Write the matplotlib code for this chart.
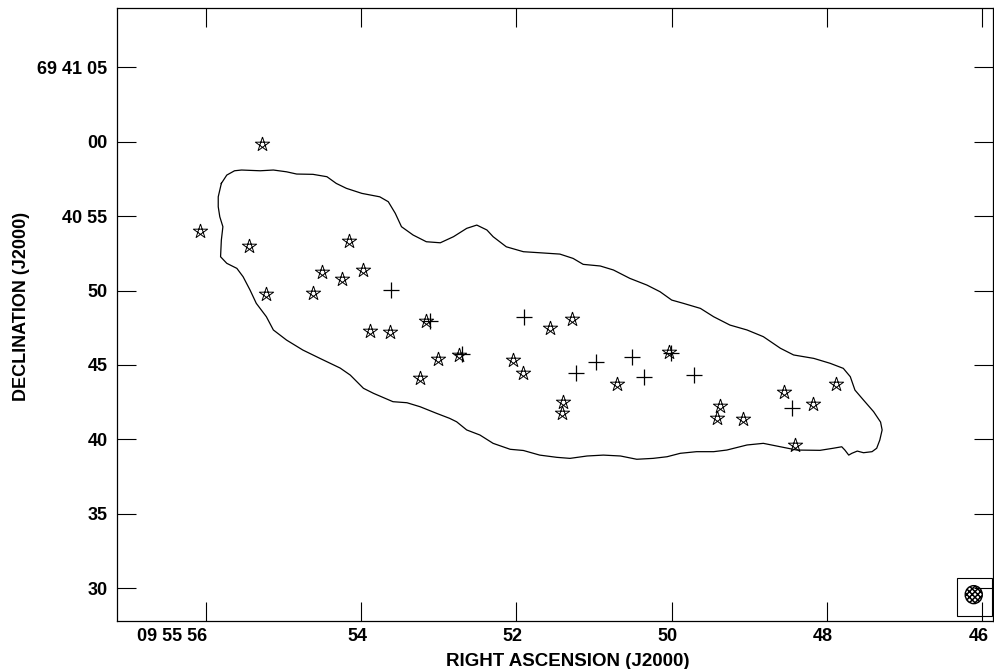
import numpy as np
import matplotlib
matplotlib.use("Agg")
import matplotlib.pyplot as plt
from matplotlib.path import Path
from matplotlib.patches import Rectangle, Ellipse
from matplotlib.transforms import ScaledTranslation

# RA in seconds of 09 55, Dec in arcsec past 69 40 00
star_ra = [55.28, 56.07, 55.45, 55.22, 54.50, 54.62, 54.16, 54.24, 53.98, 53.89,
           53.63, 53.16, 53.01, 53.24, 52.74, 52.05, 51.92, 51.57, 51.28, 51.40,
           51.41, 50.71, 50.04, 49.38, 49.42, 49.08, 48.55, 48.18, 47.88, 48.41]
star_dec = [59.84, 54.00, 53.01, 49.79, 51.26, 49.85, 53.35, 50.77, 51.38, 47.28,
            47.19, 47.93, 45.38, 44.15, 45.67, 45.33, 44.44, 47.46, 48.06, 42.53,
            41.79, 43.70, 45.89, 42.26, 41.41, 41.34, 43.20, 42.39, 43.72, 39.62]

cross_ra = [53.62, 53.11, 52.70, 51.90, 51.23, 50.97, 50.51, 50.36, 50.01, 49.71, 48.45]
cross_dec = [50.03, 47.97, 45.73, 48.24, 44.48, 45.22, 45.55, 44.17, 45.82, 44.32, 42.08]

# outer contour level, traced clockwise from the north-east corner
contour_ra = [55.80, 55.73, 55.63, 55.54, 55.30, 55.13, 54.96, 54.83, 54.62, 54.44,
              54.32, 54.19, 53.99, 53.76, 53.65, 53.56, 53.48, 53.33, 53.16, 52.98,
              52.81, 52.64, 52.51, 52.38, 52.30, 52.13, 51.91, 51.70, 51.44, 51.27,
              51.14, 50.92, 50.75, 50.54, 50.32, 50.15, 50.00, 49.85, 49.63, 49.46,
              49.25, 49.03, 48.82, 48.60, 48.43, 48.17, 47.96, 47.79, 47.70, 47.64,
              47.53, 47.40, 47.31, 47.29, 47.32, 47.36, 47.42, 47.53, 47.61, 47.68,
              47.72, 47.77, 47.81, 47.92, 48.09, 48.39, 48.60, 48.82, 49.03, 49.29,
              49.46, 49.68, 49.89, 50.06, 50.24, 50.45, 50.66, 50.88, 51.09, 51.31,
              51.48, 51.70, 51.91, 52.08, 52.30, 52.47, 52.64, 52.77, 52.86, 53.03,
              53.24, 53.41, 53.59, 53.84, 53.97, 54.14, 54.27, 54.53, 54.75, 54.96,
              55.13, 55.22, 55.35, 55.43, 55.52, 55.60, 55.73, 55.81, 55.80, 55.78,
              55.82, 55.84, 55.84, 55.80]
contour_dec = [57.20, 57.76, 58.05, 58.10, 58.05, 58.10, 57.98, 57.83, 57.81, 57.65,
               57.20, 56.87, 56.53, 56.30, 55.97, 55.19, 54.29, 53.73, 53.28, 53.21,
               53.62, 54.18, 54.40, 54.07, 53.62, 52.94, 52.61, 52.54, 52.45, 52.16,
               51.76, 51.65, 51.38, 50.82, 50.37, 49.92, 49.36, 49.14, 48.80, 48.24,
               47.68, 47.35, 46.90, 46.12, 45.67, 45.44, 45.11, 44.77, 44.21, 43.31,
               42.64, 41.86, 41.16, 40.63, 39.95, 39.40, 39.17, 39.10, 39.21, 39.06,
               38.94, 39.28, 39.50, 39.40, 39.26, 39.28, 39.50, 39.73, 39.62, 39.28,
               39.17, 39.17, 39.06, 38.83, 38.72, 38.66, 38.88, 38.94, 38.88, 38.72,
               38.79, 38.94, 39.25, 39.33, 39.73, 40.29, 40.63, 41.18, 41.41, 41.75,
               42.19, 42.46, 42.53, 43.09, 43.43, 44.32, 44.79, 45.44, 46.00, 46.67,
               47.35, 48.24, 49.14, 50.03, 50.93, 51.49, 51.83, 52.27, 53.39, 54.29,
               54.96, 55.63, 56.30, 57.20]

# restoring beam (RA s, Dec arcsec) and its box
beam_ra, beam_dec = 46.11, 29.56
beam_w, beam_h = 0.22, 1.21
box_ra = (46.32, 45.87)
box_dec = (28.12, 30.68)

x_ticks = [56, 54, 52, 50, 48, 46]
x_labels = ["09 55 56", "54", "52", "50", "48", "46"]
y_ticks = [30, 35, 40, 45, 50, 55, 60, 65]
y_labels = ["30", "35", "40", "45", "50", "40 55", "00", "69 41 05"]

plt.rcParams["font.family"] = ["Liberation Sans", "DejaVu Sans"]
plt.rcParams["font.weight"] = "bold"
plt.rcParams["hatch.linewidth"] = 1.1


def pentagram():
    ang = np.deg2rad(90 + 144 * np.arange(6))
    verts = np.column_stack([np.cos(ang), np.sin(ang)])
    codes = [Path.MOVETO] + [Path.LINETO] * 5
    return Path(verts, codes)


fig = plt.figure(figsize=(9.94, 6.69), dpi=100)
ax = fig.add_axes([0.118, 0.0722, 0.881, 0.9154])

ax.plot(contour_ra, contour_dec, color="black", lw=0.9, solid_joinstyle="round")
ax.plot(star_ra, star_dec, ls="none", marker=pentagram(), ms=10.8,
        mfc="none", mec="black", mew=0.7)
ax.plot(cross_ra, cross_dec, ls="none", marker="+", ms=11.5,
        mec="black", mew=0.9)

ax.add_patch(Rectangle((box_ra[0], box_dec[0]), box_ra[1] - box_ra[0],
                       box_dec[1] - box_dec[0], fill=False, ec="black", lw=0.8))
ax.add_patch(Ellipse((beam_ra, beam_dec), beam_w, beam_h, fc="white",
                     ec="black", lw=1.0, hatch="xxxxxx"))

ax.set_xlim(57.14, 45.862)
ax.set_ylim(27.81, 68.97)

ax.set_xticks(x_ticks)
ax.set_xticklabels(x_labels)
ax.set_yticks(y_ticks)
ax.set_yticklabels(y_labels)
ax.tick_params(direction="in", top=True, right=True, length=13.7, width=0.8,
               labelsize=13)
ax.tick_params(axis="x", pad=5)
ax.tick_params(axis="y", pad=7)

for i, lab in enumerate(ax.get_xticklabels()):
    if i == 0:
        lab.set_horizontalalignment("right")
        dx = 1 / 100
    else:
        dx = -4 / 100
    lab.set_transform(lab.get_transform() + ScaledTranslation(dx, 0, fig.dpi_scale_trans))

for sp in ax.spines.values():
    sp.set_linewidth(0.9)

ax.set_xlabel("RIGHT ASCENSION (J2000)", fontsize=13.5, fontweight="bold", labelpad=0)
ax.set_ylabel("DECLINATION (J2000)", fontsize=13, fontweight="bold", labelpad=8)
ax.xaxis.set_label_coords(0.514, -0.052)
ax.yaxis.set_label_coords(-0.0995, 0.513)

fig.savefig("out.png", dpi=100)
